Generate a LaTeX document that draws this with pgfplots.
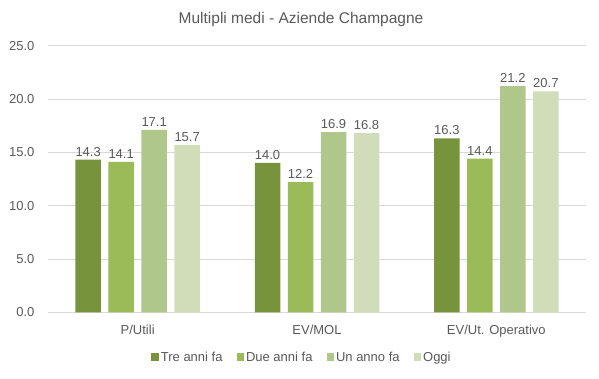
\documentclass[border=0pt]{standalone}
\usepackage{fontspec}
\setmainfont{Liberation Sans}
\usepackage{pgfplots}
\pgfplotsset{compat=1.18}
\definecolor{txt}{HTML}{595959}
\definecolor{grd}{HTML}{D9D9D9}
\definecolor{c1}{HTML}{77933C}
\definecolor{c2}{HTML}{9BBB59}
\definecolor{c3}{HTML}{AFC78A}
\definecolor{c4}{HTML}{D1DDB8}
\begin{document}
\begin{tikzpicture}
\useasboundingbox (0,0) rectangle (599pt,378pt);
\begin{axis}[
  at={(48pt,65.7pt)}, anchor=south west,
  scale only axis, width=538pt, height=266.7pt,
  ybar=7.5pt, bar width=25.5pt,
  xmin=-0.5, xmax=2.5, ymin=0, ymax=25,
  xtick={0,1,2}, xticklabels={P/Utili,EV/MOL,EV/Ut. Operativo},
  ytick={0,5,10,15,20,25},
  ymajorgrids, grid style={grd, line width=0.8pt},
  axis line style={draw=none},
  axis x line*=bottom,
  x axis line style={draw=grd, line width=0.8pt},
  major tick length=0pt,
  tick style={draw=none},
  /pgf/number format/assume math mode=true,
  yticklabel style={/pgf/number format/fixed, /pgf/number format/fixed zerofill, /pgf/number format/precision=1, xshift=-10pt},
  ticklabel style={font=\fontsize{13}{15}\selectfont, text=txt},
  xticklabel style={yshift=-9pt},
  nodes near coords={\pgfmathprintnumber[fixed,fixed zerofill,precision=1,assume math mode=true]{\pgfplotspointmeta}},
  every node near coord/.append style={font=\fontsize{13}{15}\selectfont, text=txt},
  title={Multipli medi - Aziende Champagne},
  title style={font=\fontsize{15.5}{18}\selectfont, text=txt, at={(0.5,1)}, anchor=center, yshift=20pt, xshift=-16pt},
  legend style={at={(0.5,0)}, anchor=center, yshift=-45pt, xshift=-15pt, draw=none, fill=none,
    legend columns=4, font=\fontsize{13}{15}\selectfont, text=txt,
    /tikz/every even column/.append style={column sep=12pt}},
  legend image code/.code={\fill[#1] (0pt,-3.5pt) rectangle (7.5pt,4pt);},
]
\addplot[fill=c1, draw=none] coordinates {(0,14.3) (1,14.0) (2,16.3)};
\addplot[fill=c2, draw=none] coordinates {(0,14.1) (1,12.2) (2,14.4)};
\addplot[fill=c3, draw=none] coordinates {(0,17.1) (1,16.9) (2,21.2)};
\addplot[fill=c4, draw=none] coordinates {(0,15.7) (1,16.8) (2,20.7)};
\legend{Tre anni fa, Due anni fa, Un anno fa, Oggi}
\end{axis}
\end{tikzpicture}
\end{document}
